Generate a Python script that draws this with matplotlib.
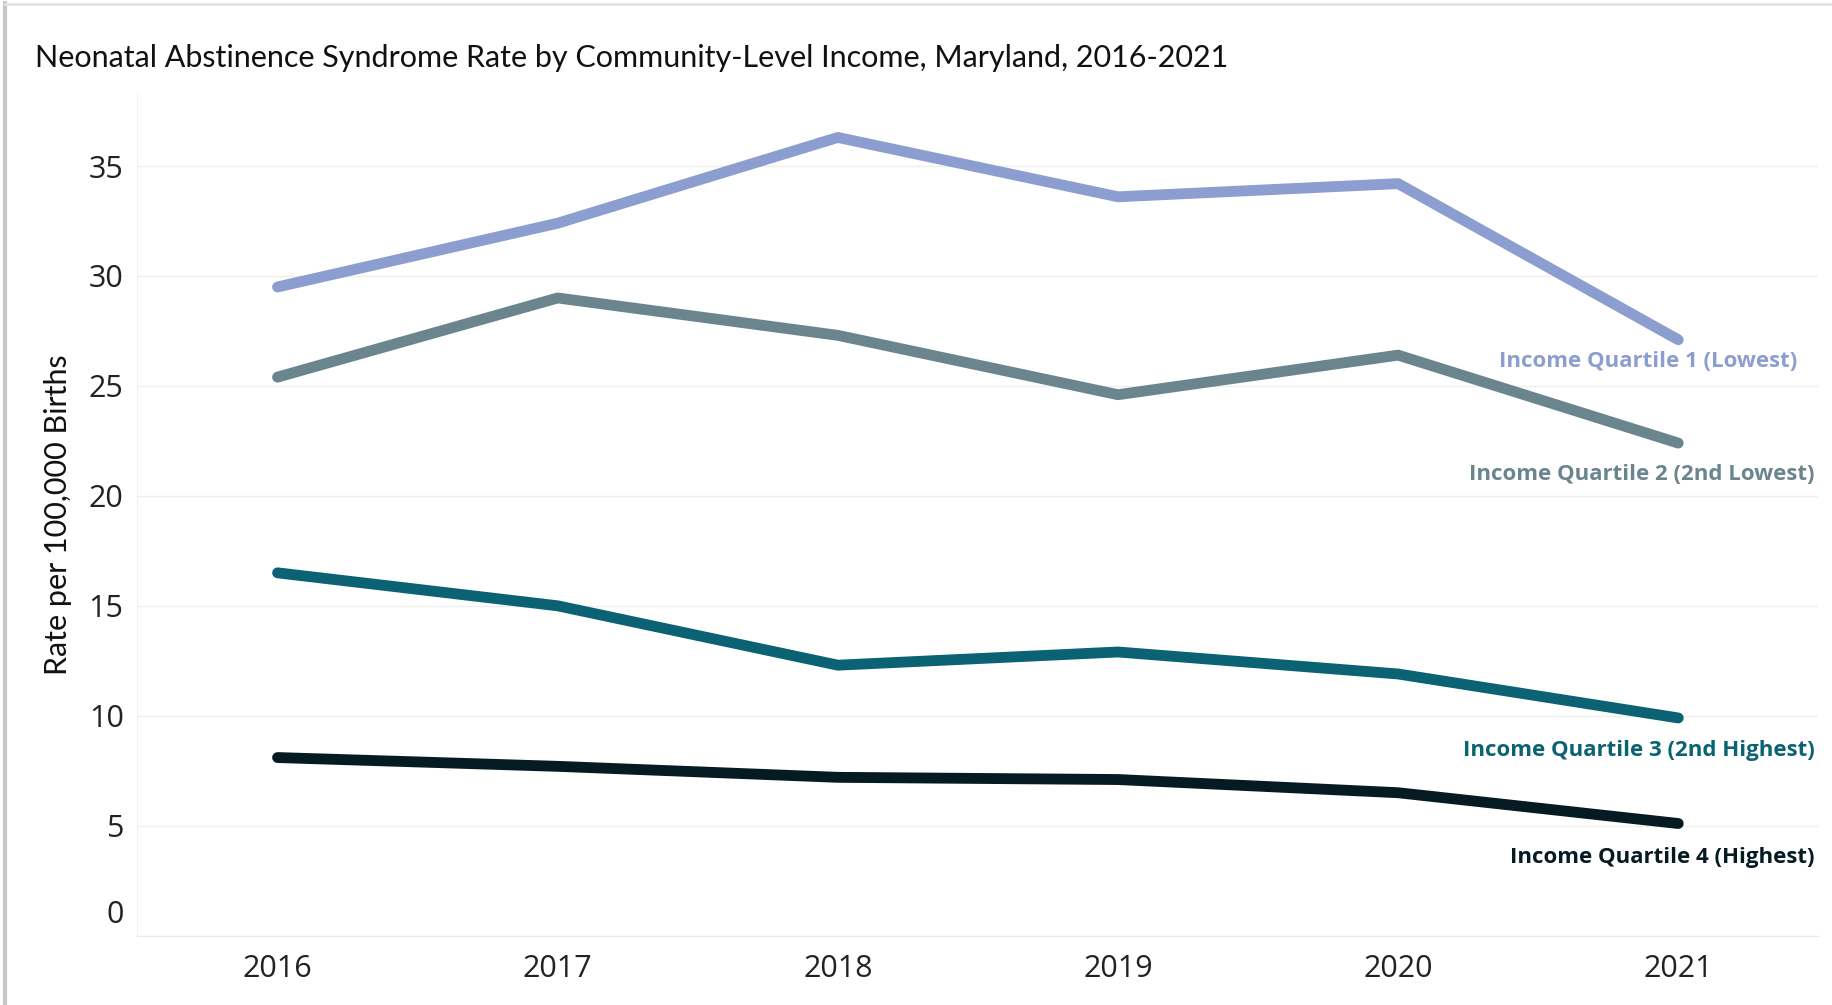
import matplotlib
matplotlib.use("Agg")
import matplotlib.pyplot as plt
from matplotlib.lines import Line2D
from matplotlib import font_manager

# Data: NAS rate per 100,000 births by community income quartile
years = ["2016", "2017", "2018", "2019", "2020", "2021"]
q1_lowest = [29.5, 32.4, 36.3, 33.6, 34.2, 27.1]
q2_second_lowest = [25.4, 29.0, 27.3, 24.6, 26.4, 22.4]
q3_second_highest = [16.5, 15.0, 12.3, 12.9, 11.9, 9.9]
q4_highest = [8.1, 7.7, 7.2, 7.1, 6.5, 5.1]

series_labels = [
    "Income Quartile 1 (Lowest)",
    "Income Quartile 2 (2nd Lowest)",
    "Income Quartile 3 (2nd Highest)",
    "Income Quartile 4 (Highest)",
]
series_values = [q1_lowest, q2_second_lowest, q3_second_highest, q4_highest]
series_colors = ["#8C9ECF", "#6A858E", "#0B6272", "#061A22"]
y_ticks = [0, 5, 10, 15, 20, 25, 30, 35]

names = {f.name for f in font_manager.fontManager.ttflist}
narrow = "Liberation Sans Narrow" if "Liberation Sans Narrow" in names else "Lato"

fig = plt.figure(figsize=(18.33, 10.05), dpi=100)
fig.patch.set_facecolor("white")

# Card border on the left and top edges
fig.add_artist(Line2D([0.003, 0.003], [0.0, 0.997], transform=fig.transFigure,
                      color="#C8C8C8", lw=3))
fig.add_artist(Line2D([0.003, 1.0], [0.996, 0.996], transform=fig.transFigure,
                      color="#E2E2E2", lw=2))

ax = fig.add_axes([0.075, 0.069, 0.917, 0.838])
x = list(range(len(years)))

for vals, col in zip(series_values, series_colors):
    ax.plot(x, vals, color=col, lw=7.8, solid_capstyle="round",
            solid_joinstyle="round", zorder=3)

ax.set_xlim(-0.5, 5.5)
ax.set_ylim(0, 38.3)

ax.set_yticks(y_ticks)
ax.set_yticklabels(["" if t == 0 else str(t) for t in y_ticks])
ax.set_xticks(x)
ax.set_xticklabels(years)

for lab in ax.get_yticklabels() + ax.get_xticklabels():
    lab.set_fontfamily("Open Sans")
    lab.set_fontsize(22)
    lab.set_color("#222222")

# The zero label sits slightly above the baseline
ax.annotate("0", xy=(0, 0), xycoords=("axes fraction", "data"),
            xytext=(-10, 15), textcoords="offset points", ha="right", va="center",
            fontfamily="Open Sans", fontsize=22, color="#222222")

ax.tick_params(axis="y", length=0, pad=10)
ax.tick_params(axis="x", length=0, pad=13)

ax.grid(axis="y", color="#EFEFEF", lw=1)
ax.set_axisbelow(True)
for side in ["top", "right"]:
    ax.spines[side].set_visible(False)
ax.spines["left"].set_color("#F0F0F0")
ax.spines["bottom"].set_color("#E8E8E8")

ax.set_ylabel("Rate per 100,000 Births", fontfamily=narrow,
              fontsize=22, color="#111111")
ax.yaxis.set_label_coords(-0.039, 0.5)

# End-of-line labels
label_offsets = [-0.98, -1.44, -1.50, -1.54]
label_right = [5.426, 5.488, 5.488, 5.488]
for lbl, vals, col, off, xr in zip(series_labels, series_values, series_colors,
                                   label_offsets, label_right):
    ax.annotate(lbl, xy=(5, vals[-1]), xytext=(xr, vals[-1] + off),
                textcoords="data", ha="right", va="center",
                fontfamily="Open Sans", fontweight="bold", fontsize=16,
                color=col, annotation_clip=False)

fig.text(0.019, 0.942, "Neonatal Abstinence Syndrome Rate by Community-Level Income, Maryland, 2016-2021",
         fontfamily=narrow, fontsize=22, color="#111111",
         ha="left", va="center")

fig.savefig("out.png", dpi=100, facecolor="white")
